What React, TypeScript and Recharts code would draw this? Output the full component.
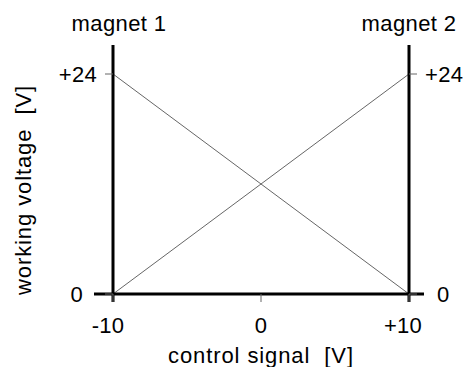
import React from 'react';
import { LineChart, Line, XAxis, YAxis, ReferenceLine } from 'recharts';

const controlSignal = [-10, 10];
const magnet1Voltage = [24, 0];
const magnet2Voltage = [0, 24];
const xTicks = [-10, 0, 10];
const xTickLabels = ['-10', '0', '+10'];
const yTicks = [0, 24];
const yTickLabels = ['0', '+24'];

const data = controlSignal.map((x, i) => ({
  x,
  magnet1: magnet1Voltage[i],
  magnet2: magnet2Voltage[i],
}));

const FONT = '"Liberation Sans", Arial, sans-serif';
const FS = 22;

// plot box in px: 113..409 x 74..294 -> extra reach of the heavy frame lines
const yPerPx = 24 / 220;
const xPerPx = 20 / 296;
const frameTop = 24 + 29 * yPerPx;
const frameBottom = -8 * yPerPx;
const frameLeft = -10 - 19 * xPerPx;
const frameRight = 10 + 15 * xPerPx;

const XTick = (props: any) => {
  const { x, y, payload } = props;
  const i = xTicks.indexOf(payload.value);
  const dx = payload.value < 0 ? -5 : payload.value > 0 ? -6 : 0;
  return (
    <text x={x + dx} y={y + 31} textAnchor="middle" fontFamily={FONT} fontSize={FS} letterSpacing={0.3} fill="#000">
      {xTickLabels[i]}
    </text>
  );
};

const LeftTick = (props: any) => {
  const { x, y, payload } = props;
  const i = yTicks.indexOf(payload.value);
  const dx = payload.value === 0 ? -22 : -8;
  return (
    <text x={x + dx} y={y + 8} textAnchor="end" fontFamily={FONT} fontSize={FS} letterSpacing={0.3} fill="#000">
      {yTickLabels[i]}
    </text>
  );
};

const RightTick = (props: any) => {
  const { x, y, payload } = props;
  const i = yTicks.indexOf(payload.value);
  const dx = payload.value === 0 ? 20 : 8;
  return (
    <text x={x + dx} y={y + 8} textAnchor="start" fontFamily={FONT} fontSize={FS} letterSpacing={0.3} fill="#000">
      {yTickLabels[i]}
    </text>
  );
};

const App: React.FC = () => {
  return (
    <div style={{ position: 'absolute', left: 0, top: 0, background: '#fff' }}>
      <LineChart
        width={465}
        height={367}
        data={data}
        margin={{ top: 74, right: 0, bottom: 0, left: 0 }}
      >
        <XAxis
          dataKey="x"
          type="number"
          domain={[-10, 10]}
          ticks={xTicks}
          axisLine={false}
          tickLine={{ stroke: '#666', strokeWidth: 1 }}
          tickSize={8}
          tickMargin={0}
          tick={XTick}
          height={73}
          label={(p: any) => {
            const vb = p.viewBox;
            return (
              <text
                x={vb.x + vb.width / 2}
                y={vb.y + 69}
                textAnchor="middle"
                fontFamily={FONT}
                fontSize={FS}
                letterSpacing={0.9}
                fill="#000"
                style={{ whiteSpace: 'pre' }}
              >
                {'control signal  [V]'}
              </text>
            );
          }}
        />
        <YAxis
          yAxisId="left"
          orientation="left"
          type="number"
          domain={[0, 24]}
          ticks={yTicks}
          axisLine={false}
          tickLine={{ stroke: '#666', strokeWidth: 1 }}
          tickSize={8}
          tickMargin={0}
          tick={LeftTick}
          width={113}
          label={(p: any) => {
            const vb = p.viewBox;
            const cx = 31;
            const cy = vb.y + vb.height / 2 + 6;
            return (
              <text
                x={cx}
                y={cy}
                transform={`rotate(-90 ${cx} ${cy})`}
                textAnchor="middle"
                fontFamily={FONT}
                fontSize={FS}
                letterSpacing={0.9}
                fill="#000"
                style={{ whiteSpace: 'pre' }}
              >
                {'working voltage  [V]'}
              </text>
            );
          }}
        />
        <YAxis
          yAxisId="right"
          orientation="right"
          type="number"
          domain={[0, 24]}
          ticks={yTicks}
          axisLine={false}
          tickLine={{ stroke: '#666', strokeWidth: 1 }}
          tickSize={8}
          tickMargin={0}
          tick={RightTick}
          width={56}
          label={(p: any) => {
            const vb = p.viewBox;
            return (
              <text x={vb.x} y={vb.y - 43} textAnchor="middle" fontFamily={FONT} fontSize={FS} letterSpacing={0.4} fill="#000">
                magnet 2
              </text>
            );
          }}
        />
        <Line
          yAxisId="left"
          dataKey="magnet1"
          stroke="#666"
          strokeWidth={1}
          dot={false}
          isAnimationActive={false}
        />
        <Line
          yAxisId="right"
          dataKey="magnet2"
          stroke="#666"
          strokeWidth={1}
          dot={false}
          isAnimationActive={false}
        />
        <ReferenceLine
          yAxisId="left"
          segment={[{ x: frameLeft, y: 0 }, { x: frameRight, y: 0 }]}
          stroke="#000"
          strokeWidth={3}
          ifOverflow="visible"
        />
        <ReferenceLine
          yAxisId="left"
          segment={[{ x: -10, y: frameBottom }, { x: -10, y: frameTop }]}
          stroke="#000"
          strokeWidth={3}
          ifOverflow="visible"
          label={(p: any) => {
            const vb = p.viewBox;
            return (
              <text x={vb.x + 6} y={31} textAnchor="middle" fontFamily={FONT} fontSize={FS} letterSpacing={0.4} fill="#000">
                magnet 1
              </text>
            );
          }}
        />
        <ReferenceLine
          yAxisId="left"
          segment={[{ x: 10, y: frameBottom }, { x: 10, y: frameTop }]}
          stroke="#000"
          strokeWidth={3}
          ifOverflow="visible"
        />
      </LineChart>
    </div>
  );
};

export default App;
